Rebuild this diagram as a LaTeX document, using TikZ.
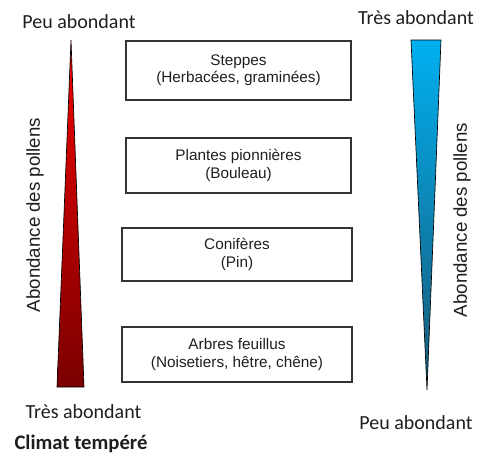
\documentclass[tikz,border=0pt]{standalone}
\usepackage{fontspec}
\setmainfont{Liberation Sans}
\newfontfamily\labelfont{Carlito}

\definecolor{redtop}{RGB}{240,0,0}
\definecolor{redbottom}{RGB}{122,0,0}
\definecolor{bluetop}{RGB}{0,176,240}
\definecolor{bluebottom}{RGB}{26,88,118}
\definecolor{boxline}{RGB}{50,50,50}
\definecolor{labeltext}{RGB}{30,30,30}

\begin{document}
\begin{tikzpicture}[x=0.75pt,y=0.75pt,yscale=-1,xscale=1,
    vegbox/.style={draw=boxline, line width=1pt, align=center, inner sep=0pt,
        font=\fontsize{11.5}{13}\selectfont, text=labeltext},
    endlabel/.style={anchor=base, inner sep=0pt, text=labeltext,
        font=\labelfont\fontsize{15}{18}\selectfont},
    axislabel/.style={rotate=90, inner sep=0pt, text=labeltext,
        font=\fontsize{14}{16}\selectfont}]
    \useasboundingbox (0,0) rectangle (483,457);

    %Shape: Triangle (left, red)
    \shade [top color=redtop, bottom color=redbottom, draw=black, line width=0.5pt] (71,40) -- (84,387) -- (57,387) -- cycle ;
    %Shape: Triangle (right, blue)
    \shade [top color=bluetop, bottom color=bluebottom, draw=black, line width=0.5pt] (411,40) -- (441,40) -- (427,390) -- cycle ;

    %Shape: Rectangle
    \node [vegbox, minimum width=168.75pt, minimum height=44.25pt] (steppes) at (238.5,70.5) {Steppes\\(Herbacées, graminées)};
    %Shape: Rectangle
    \node [vegbox, minimum width=168.75pt, minimum height=41.25pt] (pionnieres) at (238.5,165.5) {Plantes pionnières\\(Bouleau)};
    %Shape: Rectangle
    \node [vegbox, minimum width=172.5pt, minimum height=39.75pt] (coniferes) at (237,254.5) {Conifères\\(Pin)};
    %Shape: Rectangle
    \node [vegbox, minimum width=172.5pt, minimum height=41.25pt] (feuillus) at (237,354.5) {Arbres feuillus\\(Noisetiers, hêtre, chêne)};

    % Text Node
    \node [endlabel] (peuhaut) at (79,28) {Peu abondant};
    % Text Node
    \node [endlabel] (treshaut) at (416,24) {Très abondant};
    % Text Node
    \node [endlabel] (tresbas) at (83.5,418) {Très abondant};
    % Text Node
    \node [endlabel] (peubas) at (416,429) {Peu abondant};
    % Text Node
    \node [endlabel, font=\labelfont\bfseries\fontsize{15.5}{18}\selectfont] (climat) at (81,449) {Climat tempéré};
    % Text Node
    \node [axislabel] (abondgauche) at (35,215) {Abondance des pollens};
    % Text Node
    \node [axislabel] (abonddroite) at (462,220) {Abondance des pollens};

\end{tikzpicture}
\end{document}
